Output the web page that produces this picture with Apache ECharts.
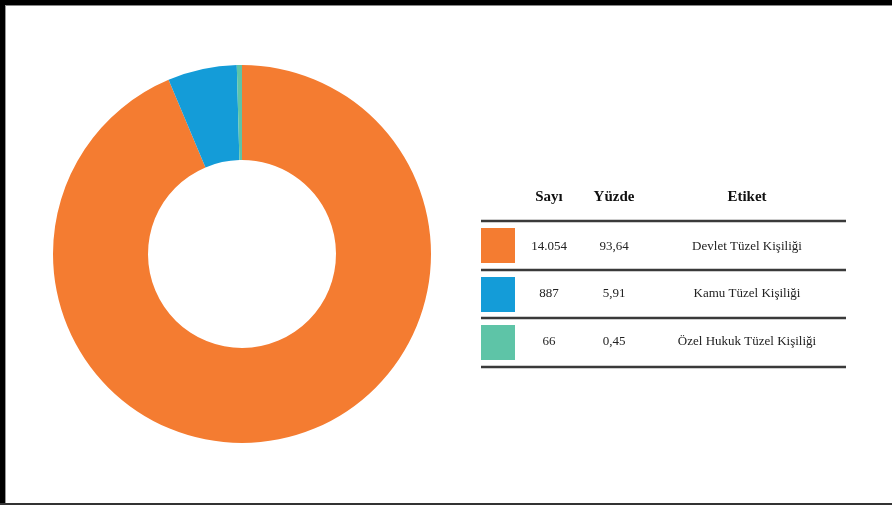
<!DOCTYPE html>
<html>
<head>
<meta charset="utf-8">
<script src="https://cdn.jsdelivr.net/npm/echarts@6/dist/echarts.min.js"></script>
<style>
  html, body { margin: 0; padding: 0; background: #fff; }
  #chart { width: 892px; height: 505px; }
</style>
</head>
<body>
<div id="chart"></div>
<script>
const labels = ['Devlet Tüzel Kişiliği', 'Kamu Tüzel Kişiliği', 'Özel Hukuk Tüzel Kişiliği']
const counts = [14054, 887, 66]
const countText = ['14.054', '887', '66']
const percentText = ['93,64', '5,91', '0,45']
const colors = ['#f47c31', '#149cd8', '#5ec4a7']
const headers = ['Sayı', 'Yüzde', 'Etiket']

const serif = '"Liberation Serif", "DejaVu Serif", serif'

// table layout
const tableLeft = 481
const tableRight = 846
const colX = [549, 614, 747]
const headerY = 197
const lineYs = [221, 270, 318, 367]
const rowYs = [247, 294, 342]

const graphics = []

// frame around the picture
graphics.push(
  { type: 'rect', shape: { x: 0, y: 0, width: 892, height: 5 }, style: { fill: '#000' } },
  { type: 'rect', shape: { x: 0, y: 5, width: 892, height: 1 }, style: { fill: '#888' } },
  { type: 'rect', shape: { x: 0, y: 0, width: 5, height: 505 }, style: { fill: '#000' } },
  { type: 'rect', shape: { x: 5, y: 5, width: 1, height: 500 }, style: { fill: '#999' } },
  { type: 'rect', shape: { x: 0, y: 503, width: 892, height: 2 }, style: { fill: '#333' } }
)

headers.forEach((h, i) => {
  graphics.push({
    type: 'text',
    x: colX[i],
    y: headerY,
    style: {
      text: h,
      font: 'bold 15px ' + serif,
      fill: '#111',
      textAlign: 'center',
      textVerticalAlign: 'middle'
    }
  })
})

lineYs.forEach(y => {
  graphics.push({
    type: 'line',
    shape: { x1: tableLeft, y1: y, x2: tableRight, y2: y },
    style: { stroke: '#3a3a3a', lineWidth: 2.5 }
  })
})

labels.forEach((name, i) => {
  const y = rowYs[i]
  graphics.push({
    type: 'rect',
    shape: { x: tableLeft, y: lineYs[i] + 7, width: 34, height: 35 },
    style: { fill: colors[i] }
  })
  const cells = [countText[i], percentText[i], name]
  cells.forEach((t, j) => {
    graphics.push({
      type: 'text',
      x: colX[j],
      y: y,
      style: {
        text: t,
        font: '13px ' + serif,
        fill: '#222',
        textAlign: 'center',
        textVerticalAlign: 'middle'
      }
    })
  })
})

const chart = echarts.init(document.getElementById('chart'))
chart.setOption({
  animation: false,
  color: colors,
  graphic: graphics,
  series: [
    {
      type: 'pie',
      center: [242, 254],
      radius: [94, 189],
      startAngle: 90,
      clockwise: true,
      label: { show: false },
      labelLine: { show: false },
      emphasis: { disabled: true },
      itemStyle: { borderWidth: 0 },
      data: labels.map((name, i) => ({ name, value: counts[i] }))
    }
  ]
})
</script>
</body>
</html>
